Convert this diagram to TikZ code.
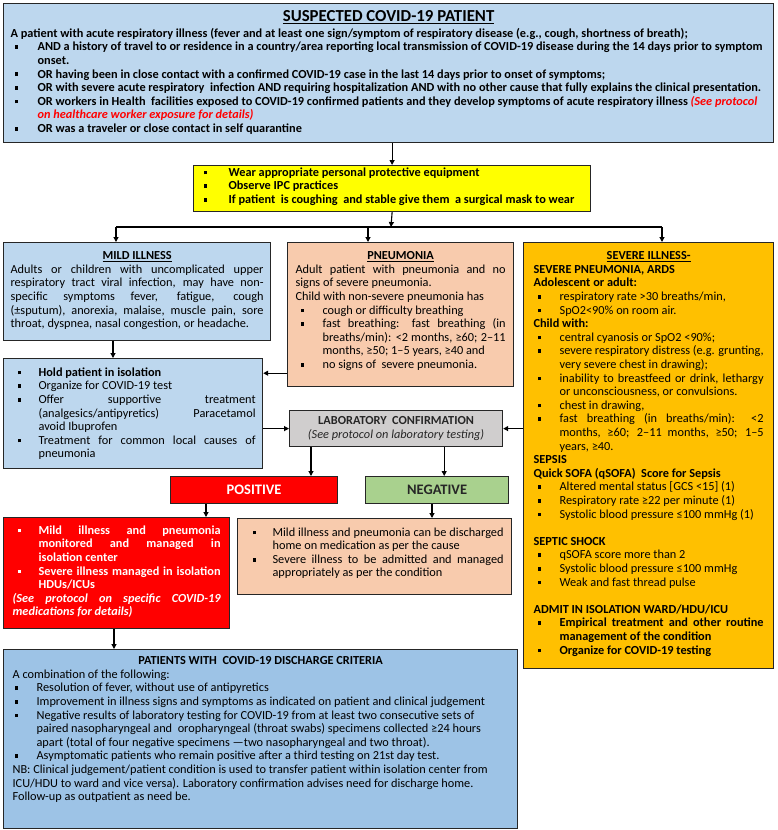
\documentclass[tikz,border=0pt]{standalone}
\usepackage{fontspec}
\setmainfont{Carlito}
\usepackage{tikz}
\usetikzlibrary{positioning,calc,arrows.meta}
\definecolor{suspbg}{HTML}{BDD7EE}
\definecolor{dischbg}{HTML}{9DC3E6}
\definecolor{ppebg}{HTML}{FFFF00}
\definecolor{pneubg}{HTML}{F8CBAD}
\definecolor{severebg}{HTML}{FFC000}
\definecolor{labbg}{HTML}{D0CECE}
\definecolor{posclr}{HTML}{FF0000}
\definecolor{negbg}{HTML}{A9D18E}
\definecolor{frameclr}{HTML}{262626}

\newlength{\bulind}
\newlength{\buloff}
\newcommand{\bodyfont}{\fontsize{12.3}{13.6}\selectfont\lineskiplimit=-4pt\hyphenpenalty=10000\relax}
\newcommand{\bul}{\par\noindent\hangindent=\bulind\hangafter=1\hbox to\bulind{\hskip\buloff\rule[0.15em]{0.3em}{0.3em}\hfil}\ignorespaces}
\newcommand{\boxhead}[1]{{\centering\bfseries\underline{#1}\par}}
\newcommand{\boxtext}[3]{\parbox[t][#1][t]{#2}{\bodyfont#3}}

\begin{document}
\begin{tikzpicture}[x=1pt, y=-1pt,
  panel/.style={draw=frameclr, line width=1.2pt, anchor=north west},
  link/.style={-{Triangle[length=5pt,width=5pt]}, line width=1.1pt}]
\useasboundingbox (0,0) rectangle (778,830);

% suspected patient
\node[panel, fill=suspbg, inner xsep=2pt, inner ysep=7pt] (susp) at (3,3)
  {\boxtext{125pt}{766pt}{\raggedright\setlength{\bulind}{27pt}\setlength{\buloff}{4pt}%
   {\centering\fontsize{16.8}{17}\selectfont\bfseries\underline{SUSPECTED COVID-19 PATIENT}\par}\vspace{2pt}
   \bfseries\leftskip=5pt
   A patient with acute respiratory illness (fever and at least one sign/symptom of respiratory disease (e.g., cough, shortness of breath);
   \bul AND a history of travel to or residence in a country/area reporting local transmission of COVID-19 disease during the 14 days prior to symptom\newline onset.
   \bul OR having been in close contact with a confirmed COVID-19 case in the last 14 days prior to onset of symptoms;
   \bul OR with severe acute respiratory\ \ infection AND requiring hospitalization AND with no other cause that fully explains the clinical presentation.
   \bul OR workers in Health\ \ facilities exposed to COVID-19 confirmed patients and they develop symptoms of acute respiratory illness {\color{red}\itshape (See protocol\newline on healthcare worker exposure for details)}
   \bul OR was a traveler or close contact in self quarantine}};

% protection
\node[panel, fill=ppebg, inner xsep=6pt, inner ysep=2pt] (ppe) at (193,165)
  {\boxtext{42pt}{385pt}{\raggedright\bfseries\setlength{\bulind}{29pt}\setlength{\buloff}{4pt}%
   \bul Wear appropriate personal protective equipment
   \bul Observe IPC practices
   \bul If patient\ \ is coughing\ \ and stable give them\ \ a surgical mask to wear}};

% three classes
\node[panel, fill=suspbg, inner xsep=7pt, inner ysep=9pt] (mild) at (3,242)
  {\boxtext{80pt}{253pt}{\boxhead{MILD ILLNESS}
   Adults or children with uncomplicated upper\linebreak respiratory tract viral infection, may have non-\linebreak specific symptoms fever, fatigue, cough\linebreak (±sputum), anorexia, malaise, muscle pain, sore\linebreak throat, dyspnea, nasal congestion, or headache.}};

\node[panel, fill=pneubg, inner xsep=8pt, inner ysep=9pt] (pneu) at (287,242)
  {\boxtext{126pt}{210pt}{\setlength{\bulind}{27pt}\setlength{\buloff}{5pt}\boxhead{PNEUMONIA}
   Adult patient with pneumonia and no\linebreak signs of severe pneumonia.\par
   Child with non-severe pneumonia has
   \bul cough or difficulty breathing
   \bul fast breathing: fast breathing (in\linebreak breaths/min): <2 months, ≥60; 2–11\linebreak months, ≥50; 1–5 years, ≥40 and
   \bul no signs of\ \ severe pneumonia.}};

\node[panel, fill=severebg, inner xsep=10pt, inner ysep=9pt] (severe) at (523,242)
  {\boxtext{408pt}{230pt}{\setlength{\bulind}{26pt}\setlength{\buloff}{4pt}\boxhead{SEVERE ILLNESS-}
   \textbf{SEVERE PNEUMONIA, ARDS}\par
   \textbf{Adolescent or adult:}
   \bul respiratory rate >30 breaths/min,
   \bul SpO2<90\% on room air.
   \par\textbf{Child with:}
   \bul central cyanosis or SpO2 <90\%;
   \bul severe respiratory distress (e.g. grunting,\linebreak very severe chest in drawing);
   \bul inability to breastfeed or drink, lethargy\linebreak or unconsciousness, or convulsions.
   \bul chest in drawing,
   \bul fast breathing (in breaths/min): <2\linebreak months, ≥60; 2–11 months, ≥50; 1–5\linebreak years, ≥40.
   \par\textbf{SEPSIS}\par
   \textbf{Quick SOFA (qSOFA)\ \ Score for Sepsis}
   \bul Altered mental status [GCS <15] (1)
   \bul Respiratory rate ≥22 per minute (1)
   \bul Systolic blood pressure ≤100 mmHg (1)
   \par\vspace{13.6pt}\textbf{SEPTIC SHOCK}
   \bul qSOFA score more than 2
   \bul Systolic blood pressure ≤100 mmHg
   \bul Weak and fast thread pulse
   \par\vspace{13.6pt}\textbf{ADMIT IN ISOLATION WARD/HDU/ICU}
   \bul \textbf{Empirical treatment and other routine\linebreak management of the condition}
   \bul \textbf{Organize for COVID-19 testing}}};

% first care
\node[panel, fill=suspbg, inner xsep=7pt, inner ysep=9pt] (hold) at (3,358)
  {\boxtext{92pt}{245pt}{\setlength{\bulind}{28pt}\setlength{\buloff}{7pt}%
   \bul \textbf{Hold patient in isolation}
   \bul Organize for COVID-19 test
   \bul Offer supportive treatment\linebreak (analgesics/antipyretics) Paracetamol\linebreak avoid Ibuprofen
   \bul Treatment for common local causes of\linebreak pneumonia}};

% testing
\node[panel, fill=labbg, minimum width=213pt, minimum height=36pt, inner sep=0pt,
      align=center, font=\fontsize{12.3}{14}\selectfont, text=black!85] (lab) at (289,410)
  {\textbf{LABORATORY\ \ CONFIRMATION}\\\textit{(See protocol on laboratory testing)}};
\node[panel, fill=posclr, minimum width=167pt, minimum height=27pt, inner sep=0pt,
      font=\fontsize{14.5}{16}\selectfont\bfseries, text=white] (pos) at (170,476) {POSITIVE};
\node[panel, fill=negbg, minimum width=143pt, minimum height=27pt, inner sep=0pt,
      font=\fontsize{14.5}{16}\selectfont\bfseries, text=black!85] (neg) at (365,476) {NEGATIVE};

\node[panel, fill=posclr, inner xsep=9pt, inner ysep=8pt] (posbox) at (3,517)
  {\boxtext{95pt}{208pt}{\color{white}\bfseries\setlength{\bulind}{26pt}\setlength{\buloff}{5pt}%
   \bul Mild illness and pneumonia\linebreak monitored and managed in\linebreak isolation center
   \bul Severe illness managed in isolation\linebreak HDUs/ICUs
   \par{\itshape (See protocol on specific COVID-19\linebreak medications for details)}}};

\node[panel, fill=pneubg, inner xsep=8pt, inner ysep=9pt] (negbox) at (237,518)
  {\boxtext{58pt}{258pt}{\setlength{\bulind}{27pt}\setlength{\buloff}{7pt}%
   \bul Mild illness and pneumonia can be discharged\linebreak home on medication as per the cause
   \bul Severe illness to be admitted and managed\linebreak appropriately as per the condition}};

% discharge
\node[panel, fill=dischbg, inner xsep=9pt, inner ysep=7pt] (disc) at (3,649)
  {\boxtext{165pt}{496pt}{\raggedright\setlength{\bulind}{24pt}\setlength{\buloff}{2pt}%
   {\centering\bfseries PATIENTS WITH\ \ COVID-19 DISCHARGE CRITERIA\par}
   A combination of the following:
   \bul Resolution of fever, without use of antipyretics
   \bul Improvement in illness signs and symptoms as indicated on patient and clinical judgement
   \bul Negative results of laboratory testing for COVID-19 from at least two consecutive sets of\newline paired nasopharyngeal and\ \ oropharyngeal (throat swabs) specimens collected ≥24 hours\newline apart (total of four negative specimens —two nasopharyngeal and two throat).
   \bul Asymptomatic patients who remain positive after a third testing on 21st day test.
   \par NB: Clinical judgement/patient condition is used to transfer patient within isolation center from\newline ICU/HDU to ward and vice versa). Laboratory confirmation advises need for discharge home.\newline Follow-up as outpatient as need be.}};

% connectors
\coordinate (split) at (391,227);
\coordinate (splitl) at (116,227);
\coordinate (splitm) at (368,227);
\coordinate (splitr) at (662,227);
\draw[link] (susp.south -| ppe.north) -- (ppe.north);
\draw[link] (ppe.south) -- (split);
\draw[line width=1.1pt] (splitl) -- (splitr);
\draw[link] (splitl) -- (splitl |- mild.north);
\draw[link] (splitm) -- (splitm |- pneu.north);
\draw[link] (splitr) -- (splitr |- severe.north);

\coordinate (mh) at ([xshift=110pt]mild.south west);
\draw[link] (mh) -- (mh |- hold.north);
\coordinate (ph) at ([yshift=14pt]pneu.south west);
\draw[link] (ph) -- (ph -| hold.east);
\draw[link] (hold.east |- lab.west) -- (lab.west);
\draw[link] (severe.west |- lab.east) -- (lab.east);

\coordinate (lp) at ([xshift=22pt]lab.south west);
\draw[link] (lp) -- (lp |- pos.north);
\coordinate (ln) at ([xshift=-59pt]lab.south east);
\draw[link] (ln) -- (ln |- neg.north);
\coordinate (pp) at ([xshift=36pt]pos.south west);
\draw[link] (pp) -- (pp |- posbox.north);
\coordinate (nn) at ([xshift=67pt]neg.south west);
\draw[link] (nn) -- (nn |- negbox.north);
\coordinate (pd) at ([xshift=111pt]posbox.south west);
\draw[link] (pd) -- (pd |- disc.north);
\end{tikzpicture}
\end{document}
